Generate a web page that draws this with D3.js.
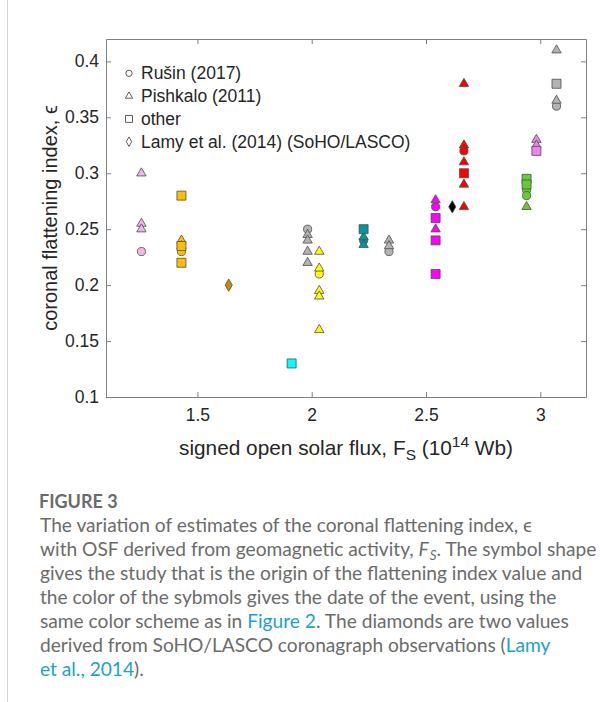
<!DOCTYPE html>
<html>
<head>
<meta charset="utf-8">
<script src="https://cdn.jsdelivr.net/npm/d3@7"></script>
<style>
  body { margin: 0; background: #fff; }
  svg { display: block; }
</style>
</head>
<body>
<div id="chart"></div>
<script>
// signed open solar flux of each event (the event date sets the colour)
var eventFlux = [1.255, 1.43, 1.637, 1.912, 1.982, 2.033, 2.227, 2.338, 2.542, 2.615, 2.666, 2.94, 2.983, 3.071];

// flattening index per study, as [event index, epsilon]
var rusin = [[0, 0.23], [1, 0.23], [4, 0.25], [5, 0.21], [6, 0.24], [7, 0.23], [8, 0.27],
  [10, 0.32], [11, 0.285], [11, 0.28], [13, 0.36]];
var pishkalo = [[0, 0.30], [0, 0.255], [0, 0.25], [1, 0.24], [1, 0.235],
  [4, 0.245], [4, 0.24], [4, 0.23], [4, 0.22],
  [5, 0.23], [5, 0.215], [5, 0.195], [5, 0.19], [5, 0.16],
  [6, 0.243], [6, 0.236], [7, 0.24], [7, 0.235], [8, 0.276], [8, 0.25],
  [10, 0.38], [10, 0.325], [10, 0.31], [10, 0.29], [10, 0.27],
  [11, 0.27], [12, 0.33], [12, 0.325], [13, 0.41], [13, 0.365]];
var other = [[1, 0.28], [1, 0.235], [1, 0.22], [3, 0.13], [6, 0.25],
  [8, 0.26], [8, 0.24], [8, 0.21], [10, 0.30], [11, 0.295], [11, 0.29],
  [12, 0.32], [13, 0.38]];
var lamy = [[2, 0.20], [9, 0.27]];

var studyNames = ["Rušin (2017)", "Pishkalo (2011)", "other", "Lamy et al. (2014) (SoHO/LASCO)"];
var xTicks = [1.5, 2, 2.5, 3];
var yTicks = [0.1, 0.15, 0.2, 0.25, 0.3, 0.35, 0.4];

// colours of the events
var eventColor = ["#f3b4e8", "#ffbf00", "#cc8800", "#00ffff", "#b3b3b3", "#ffff00", "#009999",
  "#b3b3b3", "#ff00ff", "#000000", "#ff0000", "#66cc33", "#ee82ee", "#b3b3b3"];

var svgWidth = 614;
var svgHeight = 702;
var plot = { left: 106, right: 586, top: 39, bottom: 397 };

var svg = d3.select("#chart")
  .append("svg")
  .attr("width", svgWidth)
  .attr("height", svgHeight);

// page border line on the left
svg.append("line")
  .attr("x1", 7.5).attr("x2", 7.5)
  .attr("y1", 0).attr("y2", svgHeight)
  .attr("stroke", "#d4d4d4");

var xScale = d3.scaleLinear().domain([1.1, 3.2]).range([plot.left, plot.right]);
var yScale = d3.scaleLinear().domain([0.1, 0.42]).range([plot.bottom, plot.top]);

var axisFont = "Liberation Sans, Arial, sans-serif";

function styleAxis(g) {
  g.select(".domain").attr("stroke", "#7f7f7f");
  g.selectAll(".tick line").attr("stroke", "#7f7f7f");
  g.selectAll(".tick text").attr("fill", "#262626")
    .style("font-family", axisFont).style("font-size", "17.5px");
}

svg.append("g")
  .attr("transform", `translate(0, ${plot.bottom})`)
  .call(d3.axisBottom(xScale).tickValues(xTicks).tickFormat(d3.format("")).tickSizeInner(-5).tickSizeOuter(0).tickPadding(11.5))
  .call(styleAxis);
svg.append("g")
  .attr("transform", `translate(0, ${plot.top})`)
  .call(d3.axisTop(xScale).tickValues(xTicks).tickFormat("").tickSizeInner(-5).tickSizeOuter(0))
  .call(styleAxis);
svg.append("g")
  .attr("transform", `translate(${plot.left}, 0)`)
  .call(d3.axisLeft(yScale).tickValues(yTicks).tickFormat(d3.format("")).tickSizeInner(-5).tickSizeOuter(0).tickPadding(7))
  .call(styleAxis);
svg.append("g")
  .attr("transform", `translate(${plot.right}, 0)`)
  .call(d3.axisRight(yScale).tickValues(yTicks).tickFormat("").tickSizeInner(-5).tickSizeOuter(0))
  .call(styleAxis);

// axis labels
var xLabel = svg.append("text")
  .attr("x", (plot.left + plot.right) / 2)
  .attr("y", 454.5)
  .attr("text-anchor", "middle")
  .attr("fill", "#262626")
  .style("font-family", axisFont)
  .style("font-size", "20.8px");
xLabel.append("tspan").text("signed open solar flux, F");
xLabel.append("tspan").attr("dy", 5).style("font-size", "15.5px").text("S");
xLabel.append("tspan").attr("dy", -5).text(" (10");
xLabel.append("tspan").attr("dy", -8).style("font-size", "15.5px").text("14");
xLabel.append("tspan").attr("dy", 8).text(" Wb)");

svg.append("text")
  .attr("transform", `translate(57, ${(plot.top + plot.bottom) / 2}) rotate(-90)`)
  .attr("text-anchor", "middle")
  .attr("fill", "#262626")
  .style("font-family", axisFont)
  .style("font-size", "20px")
  .text("coronal flattening index,  \u03f5");

// markers
var shapes = [d3.symbolCircle, d3.symbolTriangle, d3.symbolSquare, d3.symbolDiamond];
var sizes = [52, 38, 81, 44];
var series = [rusin, pishkalo, other, lamy];

series.forEach(function(data, i) {
  svg.append("g")
    .selectAll("path")
    .data(data)
    .enter()
    .append("path")
    .attr("transform", d => `translate(${xScale(eventFlux[d[0]])}, ${yScale(d[1])})`)
    .attr("d", d3.symbol().type(shapes[i]).size(sizes[i]))
    .attr("fill", d => eventColor[d[0]])
    .attr("stroke", "#4d4d4d")
    .attr("stroke-width", 0.8);
});

// legend
var legend = svg.append("g").selectAll("g")
  .data(studyNames)
  .enter()
  .append("g")
  .attr("transform", (d, i) => `translate(129, ${73.3 + i * 22.8})`);

legend.append("path")
  .attr("d", (d, i) => d3.symbol().type(shapes[i]).size(sizes[i] * 0.6)())
  .attr("fill", "#fff")
  .attr("stroke", "#333")
  .attr("stroke-width", 0.8);

legend.append("text")
  .attr("x", 12)
  .attr("y", 6)
  .attr("fill", "#262626")
  .style("font-family", axisFont)
  .style("font-size", "17.5px")
  .text(d => d);

// caption
var captionFont = "Lato, 'Open Sans', sans-serif";
svg.append("text")
  .attr("x", 39)
  .attr("y", 508)
  .attr("fill", "#6b6b6b")
  .style("font-family", captionFont)
  .style("font-weight", 700)
  .style("font-size", "18px")
  .text("FIGURE 3");

var captionLines = [
  [["The variation of estimates of the coronal flattening index, \u03f5", ""]],
  [["with OSF derived from geomagnetic activity, ", ""], ["F", "it"], ["S", "sub"], [". The symbol shape", "up"]],
  [["gives the study that is the origin of the flattening index value and", ""]],
  [["the color of the sybmols gives the date of the event, using the", ""]],
  [["same color scheme as in ", ""], ["Figure 2", "link"], [". The diamonds are two values", ""]],
  [["derived from SoHO/LASCO coronagraph observations (", ""], ["Lamy", "link"]],
  [["et al., 2014", "link"], [").", ""]]
];

var caption = svg.append("g")
  .style("font-family", captionFont)
  .style("font-weight", 400)
  .style("font-size", "17px");

captionLines.forEach(function(line, i) {
  var t = caption.append("text")
    .attr("x", 40)
    .attr("y", 531.7 + i * 24)
    .attr("fill", "#6b6b6b");
  line.forEach(function(seg) {
    var s = t.append("tspan").text(seg[0]);
    if (seg[1] === "link") s.attr("fill", "#1ba3c6");
    if (seg[1] === "it") s.style("font-style", "italic");
    if (seg[1] === "sub") s.style("font-style", "italic").style("font-size", "0.7em").attr("dy", 4).attr("dx", 1);
    if (seg[1] === "up") s.attr("dy", -4);
  });
});

// fit the caption width to the column
var widest = d3.max(caption.selectAll("text").nodes(), n => n.getComputedTextLength());
caption.style("font-size", (17 * 556 / widest) + "px");
</script>
</body>
</html>
